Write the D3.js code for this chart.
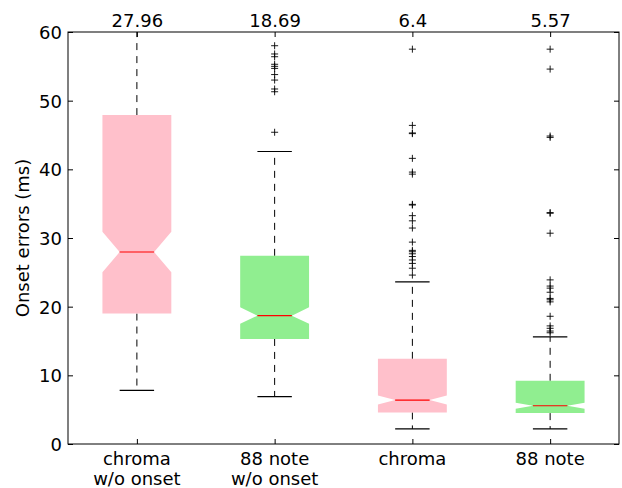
<!DOCTYPE html>
<html><head><meta charset="utf-8">
<script src="https://cdn.jsdelivr.net/npm/d3@7"></script>
<style>
html,body{margin:0;padding:0;background:#fff;}
text{font-family:"DejaVu Sans",sans-serif;}
</style></head>
<body><svg id="c" width="622" height="488"></svg>
<script>
const categories = [["chroma","w/o onset"],["88 note","w/o onset"],["chroma"],["88 note"]];
const medians   = [27.96, 18.69, 6.4, 5.57];
const q1        = [19.0, 15.3, 4.6, 4.5];
const q3        = [47.9, 27.4, 12.4, 9.2];
const notchLo   = [25.0, 17.5, 5.75, 5.15];
const notchHi   = [30.9, 19.9, 7.05, 6.0];
const whiskerLo = [7.8, 6.9, 2.2, 2.2];
const whiskerHi = [80, 42.6, 23.6, 15.6];
const outliers  = [
  [],
  [58.0, 56.8, 56.4, 55.3, 55.0, 54.7, 53.8, 53.0, 51.7, 51.3, 45.4],
  [57.5, 46.4, 45.3, 45.2, 41.6, 39.6, 39.3, 34.9, 34.8, 33.25, 32.5, 31.45, 29.4, 28.2, 28.0, 27.7, 27.3, 26.8, 26.3, 25.6, 24.6],
  [57.5, 54.6, 44.85, 44.65, 33.7, 33.6, 30.7, 23.9, 23.0, 22.7, 22.1, 21.2, 21.0, 20.7, 18.6, 17.2, 16.85, 16.45, 16.2]
];
const fills = ["#ffc0cb", "#90ee90", "#ffc0cb", "#90ee90"];
const yTicks = [0, 10, 20, 30, 40, 50, 60];

const svg = d3.select("#c");
const L = 68, R = 619, T = 32, B = 444;
const x = d3.scaleLinear().domain([0.5, 4.5]).range([L, R]);
const y = d3.scaleLinear().domain([0, 60]).range([B, T]);
const pos = categories.map((d, i) => i + 1);
const halfBox = 0.25, halfNotch = 0.125, halfCap = 0.125;

svg.append("defs").append("clipPath").attr("id", "clip")
  .append("rect").attr("x", L).attr("y", T).attr("width", R - L).attr("height", B - T);
const g = svg.append("g").attr("clip-path", "url(#clip)");

pos.forEach((p, i) => {
  g.append("line").attr("x1", x(p)).attr("x2", x(p))
    .attr("y1", y(q3[i])).attr("y2", y(whiskerHi[i]))
    .attr("stroke", "#000").attr("stroke-width", 1).attr("stroke-dasharray", "7,6");
  g.append("line").attr("x1", x(p)).attr("x2", x(p))
    .attr("y1", y(q1[i])).attr("y2", y(whiskerLo[i]))
    .attr("stroke", "#000").attr("stroke-width", 1).attr("stroke-dasharray", "7,6");
  [whiskerLo[i], whiskerHi[i]].forEach(v => {
    g.append("line").attr("x1", x(p - halfCap)).attr("x2", x(p + halfCap))
      .attr("y1", y(v)).attr("y2", y(v)).attr("stroke", "#000").attr("stroke-width", 1.2);
  });
  const pts = [
    [p - halfBox, q1[i]], [p + halfBox, q1[i]], [p + halfBox, notchLo[i]],
    [p + halfNotch, medians[i]], [p + halfBox, notchHi[i]], [p + halfBox, q3[i]],
    [p - halfBox, q3[i]], [p - halfBox, notchHi[i]], [p - halfNotch, medians[i]],
    [p - halfBox, notchLo[i]]
  ];
  g.append("path").attr("d", d3.line().x(d => x(d[0])).y(d => y(d[1]))(pts) + "Z")
    .attr("fill", fills[i]).attr("stroke", "none");
  g.append("line").attr("x1", x(p - halfNotch)).attr("x2", x(p + halfNotch))
    .attr("y1", y(medians[i])).attr("y2", y(medians[i]))
    .attr("stroke", "#ff0000").attr("stroke-width", 1.2);
  outliers[i].forEach(v => {
    const cx = x(p), cy = y(v);
    g.append("path").attr("d", `M${cx - 3.5},${cy}H${cx + 3.5}M${cx},${cy - 3.5}V${cy + 3.5}`)
      .attr("stroke", "#000").attr("stroke-width", 0.9).attr("fill", "none");
  });
});

const fs = "18px";
const axLeft = svg.append("g").attr("transform", `translate(${L},0)`)
  .call(d3.axisLeft(y).tickValues(yTicks).tickSize(-5).tickSizeOuter(0).tickPadding(6).tickFormat(d3.format("d")));
const axRight = svg.append("g").attr("transform", `translate(${R},0)`)
  .call(d3.axisRight(y).tickValues(yTicks).tickSize(-5).tickSizeOuter(0).tickFormat(""));
const axTop = svg.append("g").attr("transform", `translate(0,${T})`)
  .call(d3.axisTop(x).tickValues(pos).tickSize(-5).tickSizeOuter(0).tickPadding(5)
    .tickFormat((d, i) => String(medians[i])));
const axBottom = svg.append("g").attr("transform", `translate(0,${B})`)
  .call(d3.axisBottom(x).tickValues(pos).tickSize(-5).tickSizeOuter(0).tickFormat(""));
[axLeft, axRight, axTop, axBottom].forEach(a => {
  a.selectAll(".domain").remove();
  a.selectAll("text").attr("font-family", "DejaVu Sans").attr("font-size", fs).attr("fill", "#000");
  a.selectAll("line").attr("stroke", "#000");
});
axLeft.selectAll("text").attr("dy", "0.36em");

svg.append("rect").attr("x", L).attr("y", T).attr("width", R - L).attr("height", B - T)
  .attr("fill", "none").attr("stroke", "#000").attr("stroke-width", 1);

pos.forEach((p, i) => {
  const t = svg.append("text").attr("x", x(p)).attr("y", 465)
    .attr("text-anchor", "middle").attr("font-size", fs).attr("fill", "#000");
  categories[i].forEach((line, j) => {
    t.append("tspan").attr("x", x(p)).attr("dy", j === 0 ? 0 : 20).text(line);
  });
});

svg.append("text").attr("transform", `translate(29,${(T + B) / 2}) rotate(-90)`)
  .attr("text-anchor", "middle").attr("font-size", fs).attr("fill", "#000")
  .text("Onset errors (ms)");
</script></body></html>
